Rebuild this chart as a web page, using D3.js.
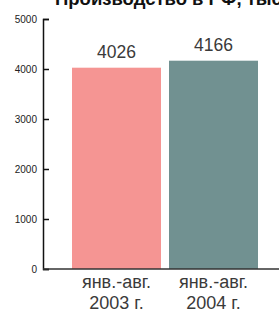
<!DOCTYPE html>
<html lang="ru">
<head>
<meta charset="UTF-8">
<script src="https://cdn.jsdelivr.net/npm/d3@7"></script>
<style>
  body { margin: 0; background: #fff; }
  text { font-family: "Liberation Sans", Arial, sans-serif; }
</style>
</head>
<body>
<script>
    const categories = ["янв.-авг.|2003 г.", "янв.-авг.|2004 г."];
    const values = [4026, 4166];
    const colors = ["#f59593", "#719191"];
    const yTicks = [0, 1000, 2000, 3000, 4000, 5000];
    const title = "Производство в РФ, тыс. шт.";

    const width = 279, height = 313;
    const svg = d3.select("body").append("svg")
        .attr("width", width).attr("height", height);

    //Scales
    const y = d3.scaleLinear().domain([0, 5000]).range([269, 19]);
    const x = d3.scaleBand().domain(categories).range([72, 258])
        .paddingInner(0.0825).paddingOuter(0);

    //Title (cut off at the top of the picture)
    svg.append("text")
        .attr("x", 55).attr("y", 5)
        .attr("font-size", "18.5px").attr("font-weight", "bold")
        .attr("fill", "#111")
        .text(title);

    //Bars
    svg.selectAll("rect.bar").data(values).enter().append("rect")
        .attr("class", "bar")
        .attr("x", (d, i) => x(categories[i]))
        .attr("y", d => y(d))
        .attr("width", x.bandwidth())
        .attr("height", d => y(0) - y(d))
        .attr("fill", (d, i) => colors[i]);

    //Value labels
    svg.selectAll("text.val").data(values).enter().append("text")
        .attr("class", "val")
        .attr("x", (d, i) => x(categories[i]) + x.bandwidth() / 2)
        .attr("y", d => y(d) - 9.5)
        .attr("text-anchor", "middle")
        .attr("font-size", "17.5px")
        .attr("fill", "#3a3a3a")
        .text(d => d);

    //Y axis
    const yAxis = d3.axisLeft(y).tickValues(yTicks).tickFormat(d3.format("d"))
        .tickSize(-6).tickPadding(6);
    const ag = svg.append("g").attr("transform", "translate(43,0)").call(yAxis);
    ag.select(".domain").attr("stroke", "#111").attr("stroke-width", 1.5);
    ag.selectAll(".tick line").attr("stroke", "#111").attr("stroke-width", 1.5);
    ag.selectAll(".tick text").attr("font-size", "10px").attr("fill", "#222")
        .attr("font-family", "'Liberation Sans', Arial, sans-serif");

    //Baseline
    svg.append("line")
        .attr("x1", 43).attr("x2", width)
        .attr("y1", y(0)).attr("y2", y(0))
        .attr("stroke", "#333").attr("stroke-width", 1.5);

    //Category labels (two lines)
    const cl = svg.selectAll("text.cat").data(categories).enter().append("text")
        .attr("class", "cat")
        .attr("text-anchor", "middle")
        .attr("font-size", "18px")
        .attr("fill", "#3a3a3a");
    cl.selectAll("tspan").data(d => d.split("|").map(s => ({ s, c: d }))).enter().append("tspan")
        .attr("x", d => x(d.c) + x.bandwidth() / 2)
        .attr("y", (d, i) => 288 + 21 * i)
        .text(d => d.s);
</script>
</body>
</html>
